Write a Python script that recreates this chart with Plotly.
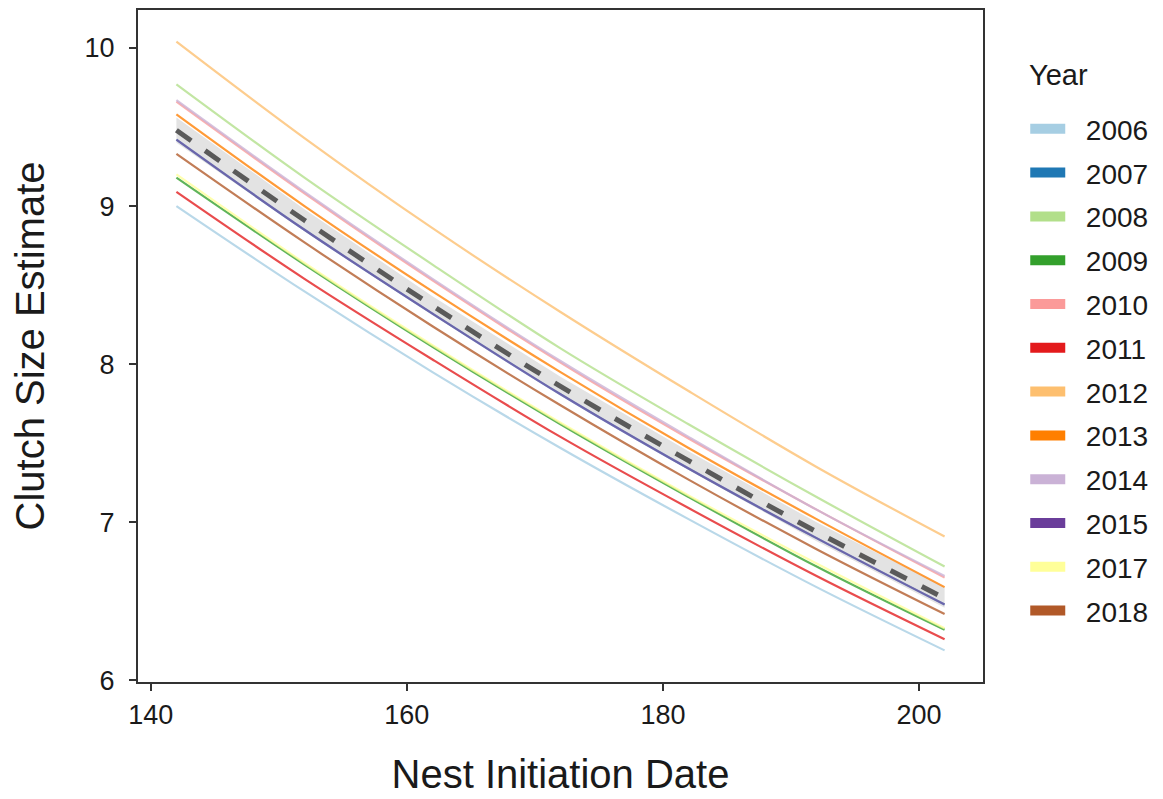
import plotly.graph_objects as go

# Nest initiation dates at which curves are read
dates = [142, 152, 162, 172, 182, 192, 202]

# Year-specific clutch size estimates
years = ["2006", "2007", "2008", "2009", "2010", "2011",
         "2012", "2013", "2014", "2015", "2017", "2018"]
y2006 = [9.00, 8.46, 7.95, 7.47, 7.02, 6.59, 6.19]
y2007 = [9.42, 8.85, 8.32, 7.81, 7.34, 6.90, 6.48]
y2008 = [9.77, 9.18, 8.63, 8.10, 7.62, 7.16, 6.72]
y2009 = [9.18, 8.63, 8.11, 7.62, 7.16, 6.72, 6.32]
y2010 = [9.66, 9.08, 8.53, 8.01, 7.53, 7.08, 6.65]
y2011 = [9.09, 8.54, 8.03, 7.54, 7.09, 6.66, 6.26]
y2012 = [10.04, 9.43, 8.86, 8.33, 7.83, 7.35, 6.91]
y2013 = [9.58, 9.00, 8.46, 7.95, 7.47, 7.02, 6.59]
y2014 = [9.67, 9.09, 8.54, 8.02, 7.54, 7.08, 6.66]
y2015 = [9.42, 8.85, 8.32, 7.81, 7.34, 6.90, 6.48]
y2017 = [9.20, 8.64, 8.12, 7.63, 7.17, 6.74, 6.33]
y2018 = [9.33, 8.77, 8.24, 7.74, 7.27, 6.83, 6.42]

# Overall (population) estimate and its confidence band
mean_est = [9.48, 8.91, 8.37, 7.86, 7.39, 6.94, 6.52]
band_low = [9.40, 8.84, 8.31, 7.81, 7.33, 6.88, 6.46]
band_high = [9.56, 8.98, 8.43, 7.92, 7.45, 7.00, 6.59]

series = [y2006, y2007, y2008, y2009, y2010, y2011,
          y2012, y2013, y2014, y2015, y2017, y2018]
colors = ["#a6cee3", "#1f78b4", "#b2df8a", "#33a02c", "#fb9a99", "#e31a1c",
          "#fdbf6f", "#ff7f00", "#cab2d6", "#6a3d9a", "#ffff99", "#b15928"]

x_ticks = [140, 160, 180, 200]
y_ticks = [6, 7, 8, 9, 10]

FONT = "Liberation Sans, Arial, Helvetica, sans-serif"
NBSP = "\u00a0"

fig = go.Figure()

# Confidence band
fig.add_trace(go.Scatter(x=dates, y=band_low, mode="lines",
                         line=dict(width=0, color="rgba(0,0,0,0)"),
                         showlegend=False, hoverinfo="skip"))
fig.add_trace(go.Scatter(x=dates, y=band_high, mode="lines",
                         line=dict(width=0, color="rgba(0,0,0,0)"),
                         fill="tonexty", fillcolor="#e3e3e3",
                         showlegend=False, hoverinfo="skip"))

# Year lines
for yr, vals, col in zip(years, series, colors):
    op = 0.6 if yr in ("2007", "2015") else 0.78
    fig.add_trace(go.Scatter(x=dates, y=vals, mode="lines", name=yr,
                             line=dict(color=col, width=2.2, shape="spline"),
                             opacity=op, legendgroup=yr, showlegend=False))

# Mean dashed line
fig.add_trace(go.Scatter(x=dates, y=mean_est, mode="lines",
                         line=dict(color="#5a5a5a", width=5, dash="18px,17px",
                                   shape="spline"),
                         showlegend=False))

# Legend keys (thick bars)
for yr, col in zip(years, colors):
    fig.add_trace(go.Scatter(x=[None], y=[None], mode="lines",
                             name=NBSP * 2 + yr,
                             line=dict(color=col, width=10.5),
                             legendgroup=yr, showlegend=True))

fig.add_annotation(text="Year", xref="paper", yref="paper",
                   x=1.052, y=0.903, xanchor="left", yanchor="middle",
                   showarrow=False, font=dict(size=29, color="#1a1a1a"))

fig.update_layout(
    width=1155, height=791,
    margin=dict(l=130, r=180, t=2, b=117),
    paper_bgcolor="white", plot_bgcolor="white",
    font=dict(family=FONT, color="#1a1a1a", size=28),
    showlegend=True,
    legend=dict(
        font=dict(size=28, color="#1a1a1a"),
        x=1.05, xanchor="left", y=0.86, yanchor="top",
        tracegroupgap=4.4, itemwidth=35, bgcolor="rgba(0,0,0,0)",
    ),
    xaxis=dict(
        range=[139, 205], tickvals=x_ticks, ticktext=[str(v) for v in x_ticks],
        showgrid=False, zeroline=False,
        showline=True, linecolor="#333333", linewidth=2, mirror=True,
        ticks="outside", ticklen=7, tickwidth=2, tickcolor="#333333",
        tickfont=dict(size=27, color="#1a1a1a"), ticklabelstandoff=1,
        title=dict(text="Nest Initiation Date", font=dict(size=40, color="#1a1a1a"),
                   standoff=31),
        automargin=False,
    ),
    yaxis=dict(
        range=[5.99, 10.24], tickvals=y_ticks, ticktext=[str(v) for v in y_ticks],
        showgrid=False, zeroline=False,
        showline=True, linecolor="#333333", linewidth=2, mirror=True,
        ticks="outside", ticklen=7, tickwidth=2, tickcolor="#333333",
        tickfont=dict(size=27, color="#1a1a1a"), ticklabelstandoff=9,
        title=dict(text="Clutch Size Estimate", font=dict(size=40, color="#1a1a1a"),
                   standoff=29),
        automargin=False,
    ),
)

fig.write_html("out.html")
